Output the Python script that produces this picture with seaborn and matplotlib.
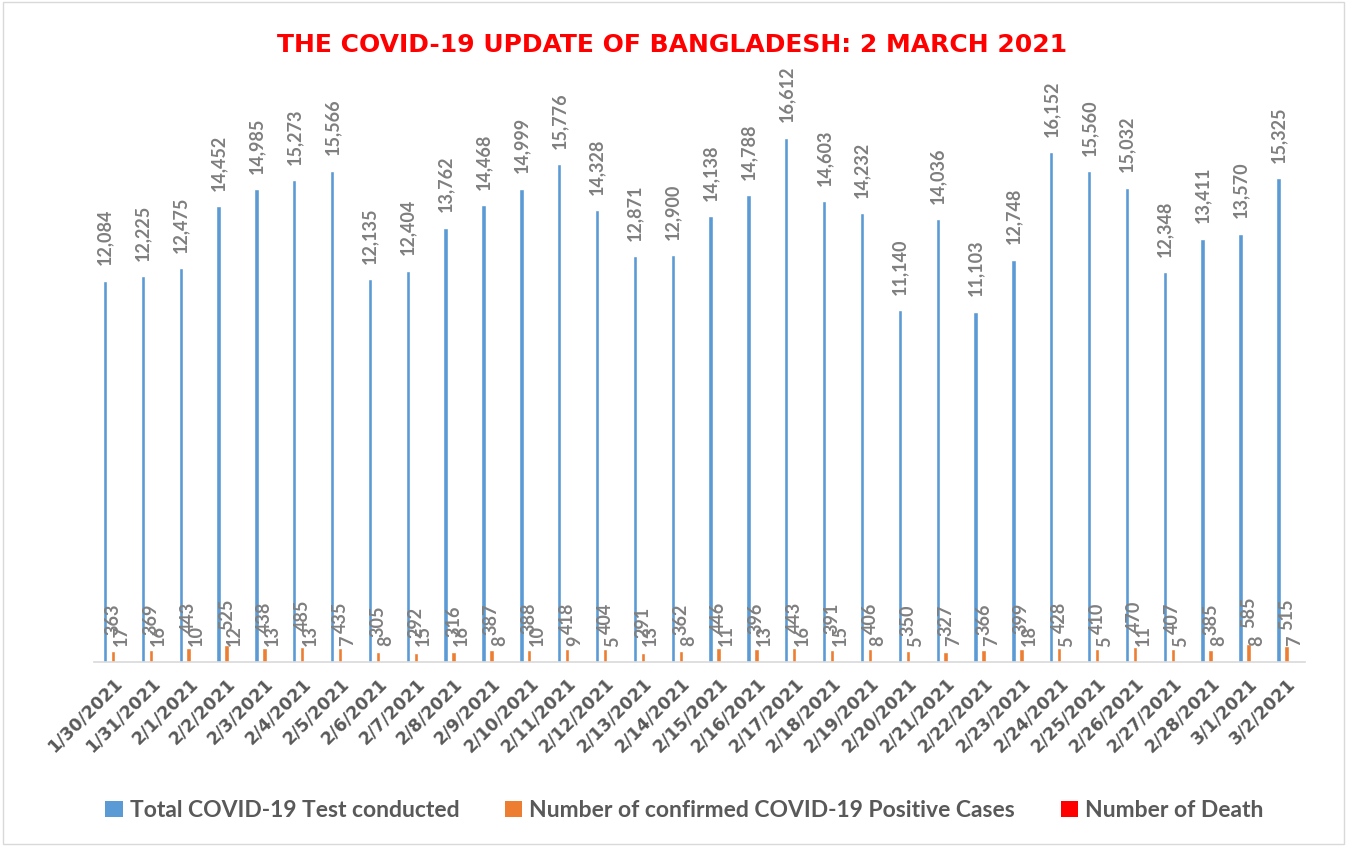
import matplotlib
matplotlib.use("Agg")
import matplotlib.pyplot as plt
import seaborn as sns
import pandas as pd
from matplotlib.patches import Patch, Rectangle

dates = ["1/30/2021", "1/31/2021", "2/1/2021", "2/2/2021", "2/3/2021", "2/4/2021",
         "2/5/2021", "2/6/2021", "2/7/2021", "2/8/2021", "2/9/2021", "2/10/2021",
         "2/11/2021", "2/12/2021", "2/13/2021", "2/14/2021", "2/15/2021", "2/16/2021",
         "2/17/2021", "2/18/2021", "2/19/2021", "2/20/2021", "2/21/2021", "2/22/2021",
         "2/23/2021", "2/24/2021", "2/25/2021", "2/26/2021", "2/27/2021", "2/28/2021",
         "3/1/2021", "3/2/2021"]
tests = [12084, 12225, 12475, 14452, 14985, 15273, 15566, 12135, 12404, 13762, 14468,
         14999, 15776, 14328, 12871, 12900, 14138, 14788, 16612, 14603, 14232, 11140,
         14036, 11103, 12748, 16152, 15560, 15032, 12348, 13411, 13570, 15325]
positives = [363, 369, 443, 525, 438, 485, 435, 305, 292, 316, 387, 388, 418, 404, 291,
             362, 446, 396, 443, 391, 406, 350, 327, 366, 399, 428, 410, 470, 407, 385,
             585, 515]
deaths = [17, 16, 10, 12, 13, 13, 7, 8, 15, 16, 8, 10, 9, 5, 13, 8, 11, 13, 16, 15, 8,
          5, 7, 7, 18, 5, 5, 11, 5, 8, 8, 7]
series_names = ["Total COVID-19 Test conducted",
                "Number of confirmed COVID-19 Positive Cases",
                "Number of Death"]
colors = ["#5B9BD5", "#ED7D31", "#FF0000"]
title = "THE COVID-19 UPDATE OF BANGLADESH: 2 MARCH 2021"

rows = []
for name, vals in zip(series_names, [tests, positives, deaths]):
    for d, v in zip(dates, vals):
        rows.append({"date": d, "series": name, "value": v})
df = pd.DataFrame(rows)

sns.set_theme(style="white")
plt.rcParams["font.family"] = ["Lato", "DejaVu Sans"]

fig = plt.figure(figsize=(13.47, 8.46), dpi=100)
ax = fig.add_axes([0.0698, 0.2175, 0.8992, 0.6715])

sns.barplot(data=df, x="date", y="value", hue="series", hue_order=series_names,
            order=dates, palette=colors, width=0.63, gap=0.45, errorbar=None,
            saturation=1, ax=ax, legend=False)

label_color = "#7F7F7F"
for cont in ax.containers:
    vals = [int(round(b.get_height())) for b in cont]
    ax.bar_label(cont, labels=[f"{v:,}" for v in vals], rotation=90, padding=11,
                 fontsize=13, color=label_color, fontweight="bold")

ax.set_ylim(0, 18000)
ax.set_xlim(-0.5, len(dates) - 0.5)
ax.set_yticks([])
ax.set_ylabel("")
ax.set_xlabel("")
for s in ["top", "right", "left"]:
    ax.spines[s].set_visible(False)
ax.spines["bottom"].set_color("#D9D9D9")
ax.spines["bottom"].set_linewidth(1.2)

ax.set_xticks(range(len(dates)))
ax.set_xticklabels(dates, rotation=45, ha="right", rotation_mode="anchor",
                   fontsize=12.5, fontweight="bold", color="#595959",
                   family=["DejaVu Sans"])
ax.tick_params(axis="x", which="major", length=0, pad=9)
ax.set_xticks([i - 0.5 for i in range(len(dates) + 1)], minor=True)
ax.tick_params(axis="x", which="minor", length=8, width=1.2, color="#D9D9D9",
               direction="out")

fig.text(0.499, 0.947, title, ha="center", va="center", color="#FF0000",
         fontsize=18, fontweight="bold", family=["DejaVu Sans"])

handles = [Patch(facecolor=c, edgecolor="none") for c in colors]
leg = fig.legend(handles, series_names, loc="center", bbox_to_anchor=(0.508, 0.042),
                 ncol=3, frameon=False, handlelength=0.75, handleheight=0.75,
                 handletextpad=0.3, columnspacing=2.0,
                 prop={"size": 16.5, "weight": "bold"})
for t in leg.get_texts():
    t.set_color("#595959")

fig.patches.append(Rectangle((0.002, 0.002), 0.996, 0.996, transform=fig.transFigure,
                             fill=False, edgecolor="#D9D9D9", linewidth=1))

fig.savefig("out.png", dpi=100, facecolor="white")
